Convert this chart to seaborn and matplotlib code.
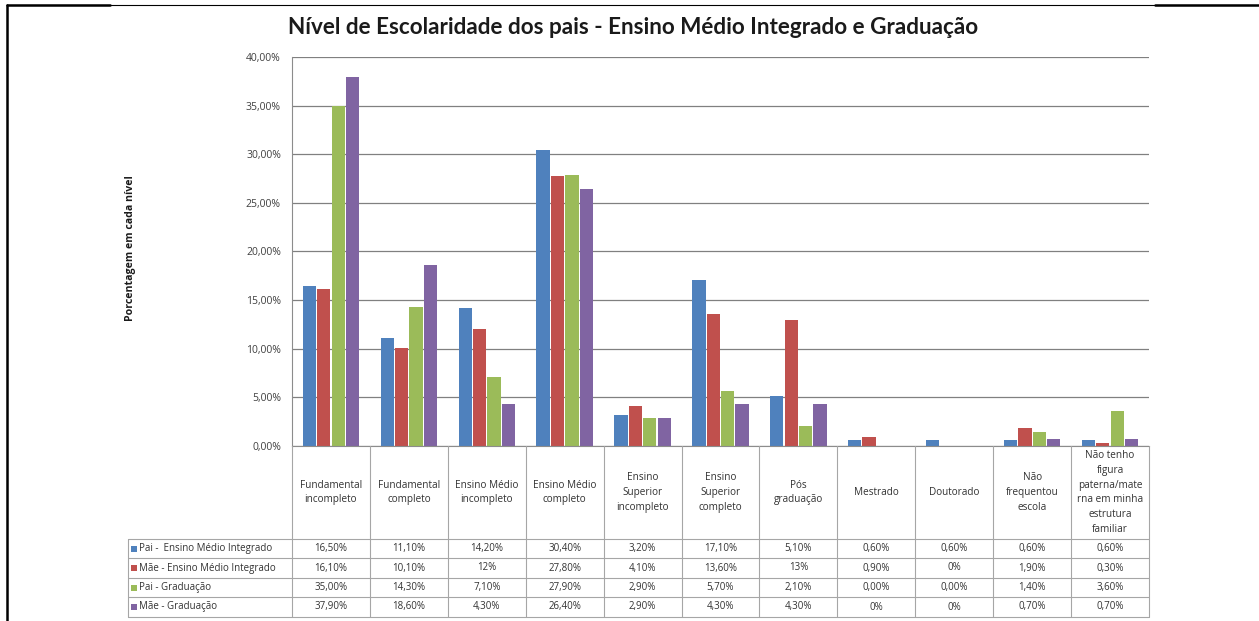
import matplotlib
matplotlib.use("Agg")
import matplotlib.pyplot as plt
import matplotlib.transforms as mtransforms
from matplotlib.lines import Line2D
from matplotlib.patches import Rectangle
from matplotlib.ticker import FuncFormatter, MultipleLocator
import seaborn as sns
import pandas as pd

# ---------------- data ----------------
categories = [
    "Fundamental\nincompleto",
    "Fundamental\ncompleto",
    "Ensino Médio\nincompleto",
    "Ensino Médio\ncompleto",
    "Ensino\nSuperior\nincompleto",
    "Ensino\nSuperior\ncompleto",
    "Pós\ngraduação",
    "Mestrado",
    "Doutorado",
    "Não\nfrequentou\nescola",
    "Não tenho\nfigura\npaterna/mate\nrna em minha\nestrutura\nfamiliar",
]
series = [
    "Pai -  Ensino Médio Integrado",
    "Mãe - Ensino Médio Integrado",
    "Pai - Graduação",
    "Mãe - Graduação",
]
pai_emi = [16.5, 11.1, 14.2, 30.4, 3.2, 17.1, 5.1, 0.6, 0.6, 0.6, 0.6]
mae_emi = [16.1, 10.1, 12.0, 27.8, 4.1, 13.6, 13.0, 0.9, 0.0, 1.9, 0.3]
pai_grad = [35.0, 14.3, 7.1, 27.9, 2.9, 5.7, 2.1, 0.0, 0.0, 1.4, 3.6]
mae_grad = [37.9, 18.6, 4.3, 26.4, 2.9, 4.3, 4.3, 0.0, 0.0, 0.7, 0.7]

pai_emi_txt = ["16,50%", "11,10%", "14,20%", "30,40%", "3,20%", "17,10%", "5,10%", "0,60%", "0,60%", "0,60%", "0,60%"]
mae_emi_txt = ["16,10%", "10,10%", "12%", "27,80%", "4,10%", "13,60%", "13%", "0,90%", "0%", "1,90%", "0,30%"]
pai_grad_txt = ["35,00%", "14,30%", "7,10%", "27,90%", "2,90%", "5,70%", "2,10%", "0,00%", "0,00%", "1,40%", "3,60%"]
mae_grad_txt = ["37,90%", "18,60%", "4,30%", "26,40%", "2,90%", "4,30%", "4,30%", "0%", "0%", "0,70%", "0,70%"]

colors = ["#4F81BD", "#C0504D", "#9BBB59", "#8064A2"]
title = "Nível de Escolaridade dos pais - Ensino Médio Integrado e Graduação"
ylabel = "Porcentagem em cada nível"

values = [pai_emi, mae_emi, pai_grad, mae_grad]
texts = [pai_emi_txt, mae_emi_txt, pai_grad_txt, mae_grad_txt]

rows = []
for s, vals in zip(series, values):
    for c, v in zip(categories, vals):
        rows.append({"categoria": c, "serie": s, "valor": v})
df = pd.DataFrame(rows)

# ---------------- figure ----------------
sns.set_style("white")
plt.rcParams["font.family"] = ["Open Sans", "DejaVu Sans"]

W, H = 1259, 621
fig = plt.figure(figsize=(W / 100, H / 100), dpi=100)


def fx(px):
    return px / W


def fy(py):
    return 1 - py / H


ax_l, ax_r, ax_t, ax_b = 292, 1149, 57, 446
ax = fig.add_axes([fx(ax_l), fy(ax_b), fx(ax_r) - fx(ax_l), fy(ax_t) - fy(ax_b)])

sns.barplot(
    data=df, x="categoria", y="valor", hue="serie",
    order=categories, hue_order=series, palette=colors,
    width=0.74, gap=0.08, saturation=1, linewidth=0,
    legend=False, ax=ax,
)

ax.set_xlim(-0.5, len(categories) - 0.5)
ax.set_ylim(0, 40)
ax.yaxis.set_major_locator(MultipleLocator(5))
ax.yaxis.set_major_formatter(FuncFormatter(lambda v, p: f"{v:.2f}%".replace(".", ",")))
ax.set_xticks([])
ax.set_xlabel("")
ax.set_ylabel("")
ax.grid(axis="y", color="#808080", linewidth=0.9)
ax.set_axisbelow(True)
for s in ["top", "right"]:
    ax.spines[s].set_visible(False)
ax.spines["left"].set_color("#8C8C8C")
ax.spines["bottom"].set_color("#8C8C8C")
ax.tick_params(axis="y", direction="out", length=4, color="#8C8C8C",
               labelsize=7.5, labelcolor="#404040", pad=4)

# ---------------- title / y label ----------------
fig.text(fx(633), fy(28), title, ha="center", va="center",
         fontsize=16.2, fontweight="bold", family="Lato", color="#1a1a1a")
fig.text(fx(131), fy(248), ylabel, ha="center", va="center", rotation=90,
         fontsize=7.6, fontweight="bold", color="#1a1a1a")

# ---------------- data table ----------------
tr = mtransforms.blended_transform_factory(ax.transData, fig.transFigure)
grid_c = "#A6A6A6"
row_lines = [539, 558, 578, 597, 617]
n = len(categories)

# vertical lines between categories
for i in range(n + 1):
    fig.add_artist(Line2D([i - 0.5, i - 0.5], [fy(ax_b), fy(row_lines[-1])],
                          transform=tr, color=grid_c, linewidth=0.8))
# horizontal lines
for yy in row_lines:
    fig.add_artist(Line2D([fx(128), fx(ax_r)], [fy(yy), fy(yy)],
                          transform=fig.transFigure, color=grid_c, linewidth=0.8))
# left border of row label column
fig.add_artist(Line2D([fx(128), fx(128)], [fy(row_lines[0]), fy(row_lines[-1])],
                      transform=fig.transFigure, color=grid_c, linewidth=0.8))

# category labels
for i, c in enumerate(categories):
    fig.text(i, fy((ax_b + row_lines[0]) / 2), c, transform=tr, ha="center", va="center",
             fontsize=7.2, color="#333333", linespacing=1.45)

# row labels + values
for r, (s, col, txts) in enumerate(zip(series, colors, texts)):
    yc = (row_lines[r] + row_lines[r + 1]) / 2
    fig.add_artist(Rectangle((fx(131), fy(yc + 3)), fx(6), 6 / H,
                             transform=fig.transFigure, color=col, linewidth=0))
    fig.text(fx(139), fy(yc), s, ha="left", va="center", fontsize=7, color="#333333")
    for i, t in enumerate(txts):
        fig.text(i, fy(yc), t, transform=tr, ha="center", va="center",
                 fontsize=7, color="#333333")

# ---------------- page frame ----------------
fig.add_artist(Line2D([fx(7), fx(7)], [fy(5), fy(621)], transform=fig.transFigure,
                      color="black", linewidth=1.8))
fig.add_artist(Line2D([fx(7), fx(1259)], [fy(5), fy(5)], transform=fig.transFigure,
                      color="black", linewidth=0.8))
fig.add_artist(Line2D([fx(7), fx(110)], [fy(5), fy(5)], transform=fig.transFigure,
                      color="black", linewidth=1.8))
fig.add_artist(Line2D([fx(1155), fx(1259)], [fy(5), fy(5)], transform=fig.transFigure,
                      color="black", linewidth=1.8))

fig.savefig("out.png", dpi=100)
